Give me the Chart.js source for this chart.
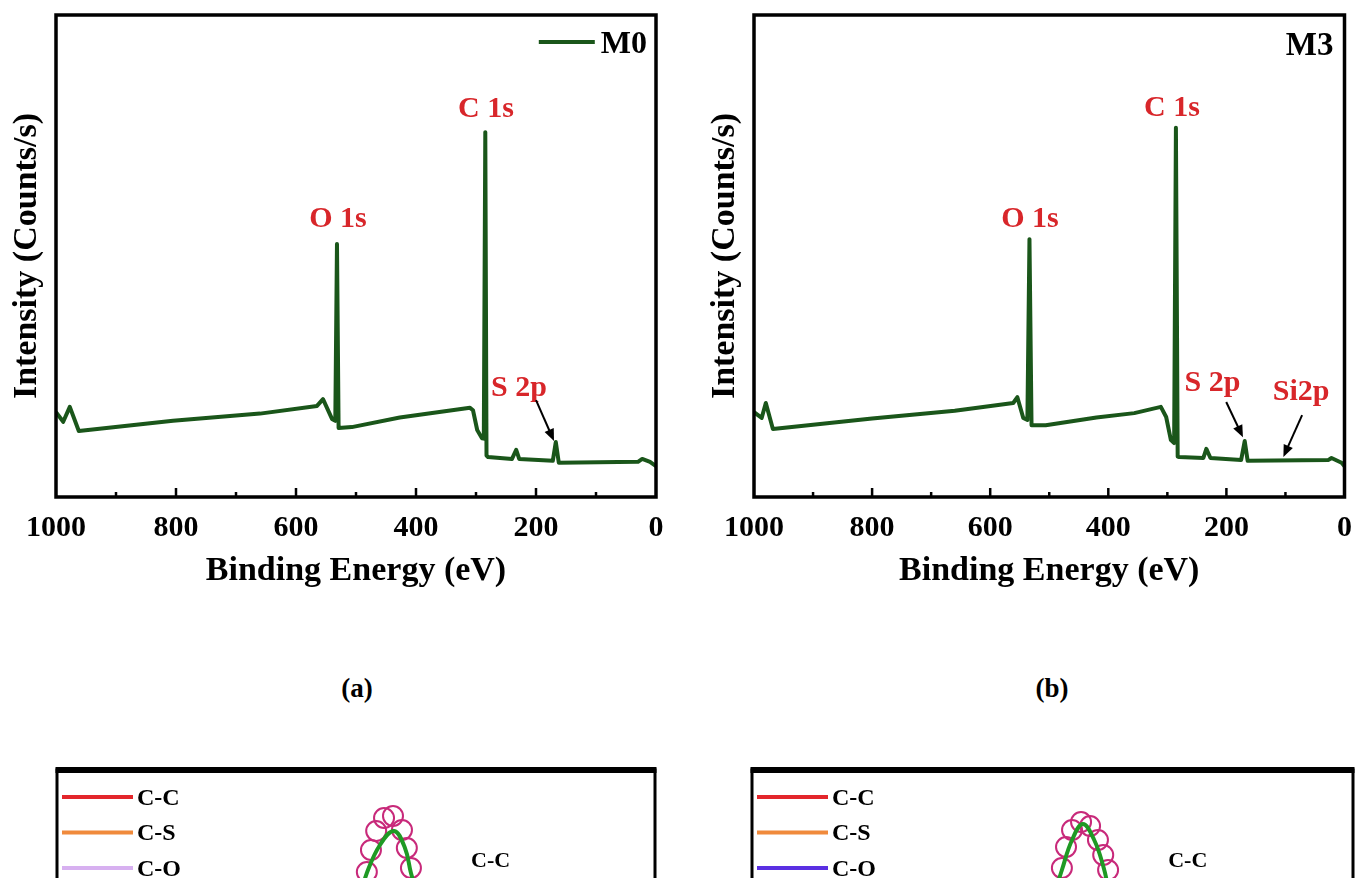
<!DOCTYPE html>
<html lang="en">
<head>
<meta charset="UTF-8">
<title>XPS survey spectra M0 / M3</title>
<script src="https://cdn.jsdelivr.net/npm/chart.js"></script>
<style>
    html, body { margin: 0; padding: 0; background: #fff; }
    body { width: 1365px; height: 878px; overflow: hidden; position: relative;
           font-family: 'Liberation Serif', 'Times New Roman', serif; }
    .panel { position: absolute; }
    .cap { position: absolute; font-weight: bold; font-size: 27px; transform: translate(-50%, -50%); }
</style>
</head>
<body>
    <div class="panel" style="left:0;top:0;width:690px;height:620px"><canvas id="chartM0"></canvas></div>
    <div class="panel" style="left:680px;top:0;width:685px;height:620px"><canvas id="chartM3"></canvas></div>
    <div class="cap" style="left:357px;top:688px">(a)</div>
    <div class="cap" style="left:1052px;top:688px">(b)</div>
    <div class="panel" style="left:0;top:700px;width:690px;height:500px"><canvas id="hrM0"></canvas></div>
    <div class="panel" style="left:680px;top:700px;width:685px;height:500px"><canvas id="hrM3"></canvas></div>

<script>
    const SERIF = "'Liberation Serif', 'Times New Roman', serif"
    Chart.defaults.font.family = SERIF
    Chart.defaults.color = '#000'

    // survey spectra: binding energy (eV) / intensity (arb. units, axis has no numbers)
    const energyM0 = [1000, 988, 977, 962, 805, 660, 565, 555, 540, 534.5, 531.7, 529, 507, 427, 310, 305, 298, 290, 287, 284.5, 282.5, 280, 240, 233, 228, 172, 167, 162, 30, 23, 10, 0]
    const countsM0 = [17.6, 15.6, 18.7, 13.7, 15.8, 17.3, 18.9, 20.3, 16.2, 15.8, 52.5, 14.3, 14.5, 16.5, 18.5, 18.0, 13.9, 12.2, 12.1, 75.7, 8.6, 8.3, 7.9, 9.8, 7.9, 7.5, 11.4, 7.1, 7.3, 7.9, 7.3, 6.4]

    const energyM3 = [1000, 987, 980, 968, 800, 660, 561, 554, 544, 537, 533.5, 530, 506, 420, 356, 311, 302, 294, 288.5, 285.5, 282.5, 280, 239, 234, 227, 175, 169, 164, 27, 22, 5, 0]
    const countsM3 = [17.6, 16.4, 19.5, 14.1, 16.3, 17.9, 19.5, 20.7, 16.4, 16.0, 53.5, 14.9, 14.9, 16.5, 17.4, 18.7, 16.6, 11.8, 11.2, 76.6, 8.4, 8.3, 8.1, 10.0, 8.1, 7.7, 11.6, 7.5, 7.7, 8.1, 7.1, 6.4]

    const surveyMin = 0
    const surveyMax = 1000
    const surveyStep = 200

    // C 1s high resolution, only the top of the C-C peak is in view
    const rawEnergyM0 = [285.71, 285.60, 285.46, 285.25, 285.01, 284.77, 284.64, 284.53]
    const rawCountsM0 = [74.5, 80, 84.75, 88, 88.5, 85, 80.5, 75.5]
    const fitEnergyM0 = [285.84, 285.71, 285.36, 284.98, 284.69, 284.53, 284.39]
    const fitCountsM0 = [70, 74.25, 81.25, 84.75, 80.5, 74.25, 70]

    const rawEnergyM3 = [285.75, 285.64, 285.48, 285.24, 285.00, 284.79, 284.65, 284.52]
    const rawCountsM3 = [75.5, 80.75, 85, 87, 86, 82.5, 78.75, 75]
    const fitEnergyM3 = [285.93, 285.75, 285.48, 285.19, 284.89, 284.65, 284.50]
    const fitCountsM3 = [69.5, 75, 82.5, 86.5, 82.5, 76, 70]

    const components = ['C-C', 'C-S', 'C-O']

    function pts(xs, ys) {
        return xs.map((v, i) => ({ x: v, y: ys[i] }))
    }

    function put(ctx, text, px, py, size, color, align) {
        ctx.font = `bold ${size}px ${SERIF}`
        ctx.fillStyle = color
        ctx.textAlign = align || 'center'
        ctx.textBaseline = 'alphabetic'
        ctx.fillText(text, px, py + size * 0.33)
    }

    const deco = {
        id: 'deco',
        afterDatasetsDraw(chart, args, o) {
            const { ctx, chartArea: a, scales: { x, y } } = chart
            ctx.save()
            ctx.strokeStyle = '#000'
            ctx.lineWidth = o.frame || 3.5
            ctx.strokeRect(a.left, a.top, a.right - a.left, a.bottom - a.top)
            if (o.topFrame) {
                ctx.lineWidth = o.topFrame
                ctx.beginPath()
                ctx.moveTo(a.left - 1.5, a.top)
                ctx.lineTo(a.right + 1.5, a.top)
                ctx.stroke()
            }
            // inward ticks every 100 eV, longer at labelled ones
            if (o.minor) {
                ctx.lineWidth = 2.5
                for (let v = x.min + o.minor; v < x.max; v += o.minor) {
                    const px = x.getPixelForValue(v)
                    const len = v % surveyStep === 0 ? 9 : 5
                    ctx.beginPath()
                    ctx.moveTo(px, a.bottom)
                    ctx.lineTo(px, a.bottom - len)
                    ctx.stroke()
                }
            }
            ;(o.labels || []).forEach(l => {
                put(ctx, l.text, x.getPixelForValue(l.at[0]), y.getPixelForValue(l.at[1]), l.size, l.color)
            })
            ;(o.arrows || []).forEach(ar => {
                const x1 = x.getPixelForValue(ar.from[0]), y1 = y.getPixelForValue(ar.from[1])
                const x2 = x.getPixelForValue(ar.to[0]), y2 = y.getPixelForValue(ar.to[1])
                const ang = Math.atan2(y2 - y1, x2 - x1)
                ctx.strokeStyle = '#000'
                ctx.fillStyle = '#000'
                ctx.lineWidth = 2
                ctx.beginPath()
                ctx.moveTo(x1, y1)
                ctx.lineTo(x2 - 8 * Math.cos(ang), y2 - 8 * Math.sin(ang))
                ctx.stroke()
                ctx.beginPath()
                ctx.moveTo(x2, y2)
                ctx.lineTo(x2 - 12 * Math.cos(ang) + 5 * Math.sin(ang), y2 - 12 * Math.sin(ang) - 5 * Math.cos(ang))
                ctx.lineTo(x2 - 12 * Math.cos(ang) - 5 * Math.sin(ang), y2 - 12 * Math.sin(ang) + 5 * Math.cos(ang))
                ctx.closePath()
                ctx.fill()
            })
            // sample legend, top right
            if (o.sample) {
                const ds = chart.data.datasets[0]
                const tx = a.right - o.sample.right
                const ty = a.top + o.sample.top
                ctx.font = `bold ${o.sample.size}px ${SERIF}`
                const w = ctx.measureText(ds.label).width
                if (o.sample.line) {
                    ctx.strokeStyle = ds.borderColor
                    ctx.lineWidth = 4
                    ctx.beginPath()
                    ctx.moveTo(tx - w - 62, ty)
                    ctx.lineTo(tx - w - 6, ty)
                    ctx.stroke()
                }
                put(ctx, ds.label, tx, ty, o.sample.size, '#000', 'right')
            }
            // component legend, top left
            if (o.comp) {
                chart.data.datasets.filter(d => d.comp).forEach((d, i) => {
                    const ly = a.top + o.comp.top + i * o.comp.gap
                    ctx.strokeStyle = d.borderColor
                    ctx.lineWidth = 4
                    ctx.beginPath()
                    ctx.moveTo(a.left + 5, ly)
                    ctx.lineTo(a.left + 76, ly)
                    ctx.stroke()
                    put(ctx, d.label, a.left + 80, ly, o.comp.size, '#000', 'left')
                })
            }
            ctx.restore()
        }
    }

    function surveyChart(id, name, xs, ys, yWidth, titlePad, padRight, extra) {
        const axisFont = { family: SERIF, weight: 'bold', size: 34 }
        return new Chart(document.getElementById(id), {
            type: 'line',
            data: {
                datasets: [{
                    label: name,
                    data: pts(xs, ys),
                    borderColor: '#1a561a',
                    borderWidth: 4,
                    borderJoinStyle: 'round',
                    pointRadius: 0,
                    tension: 0
                }]
            },
            options: {
                responsive: true,
                maintainAspectRatio: false,
                animation: false,
                layout: { padding: { top: 15, right: padRight, bottom: 0, left: 0 } },
                scales: {
                    x: {
                        type: 'linear', min: surveyMin, max: surveyMax, reverse: true,
                        grid: { display: false, drawTicks: false },
                        border: { display: false },
                        ticks: { stepSize: surveyStep, padding: 13, autoSkip: false, maxRotation: 0, color: '#000',
                                 font: { family: SERIF, weight: 'bold', size: 30 },
                                 callback: v => String(v) },
                        title: { display: true, text: 'Binding Energy (eV)', color: '#000', font: axisFont,
                                 padding: { top: 0, bottom: 28 } },
                        afterFit: s => { s.height = 123 }
                    },
                    y: {
                        min: 0, max: 100,
                        grid: { display: false, drawTicks: false },
                        border: { display: false },
                        ticks: { display: false },
                        title: { display: true, text: 'Intensity (Counts/s)', color: '#000', font: axisFont,
                                 padding: { top: titlePad, bottom: 0 } },
                        afterFit: s => { s.width = yWidth }
                    }
                },
                plugins: {
                    legend: { display: false },
                    tooltip: { enabled: false },
                    deco: Object.assign({ frame: 3.5, minor: 100 }, extra)
                }
            },
            plugins: [deco]
        })
    }

    const red = '#d8262a'

    surveyChart('chartM0', 'M0', energyM0, countsM0, 56, 7, 34, {
        labels: [
            { text: 'O 1s', at: [530, 58.1], size: 30, color: red },
            { text: 'C 1s', at: [283.3, 80.9], size: 30, color: red },
            { text: 'S 2p', at: [228.3, 23.0], size: 30, color: red }
        ],
        arrows: [{ from: [200, 20.1], to: [170, 11.6] }],
        sample: { right: 9, top: 27, size: 32, line: true }
    })

    surveyChart('chartM3', 'M3', energyM3, countsM3, 74, 25, 12, {
        labels: [
            { text: 'O 1s', at: [532.6, 58.1], size: 30, color: red },
            { text: 'C 1s', at: [292.2, 81.1], size: 30, color: red },
            { text: 'S 2p', at: [223.7, 24.1], size: 30, color: red },
            { text: 'Si2p', at: [73.5, 22.2], size: 30, color: red }
        ],
        arrows: [{ from: [200.3, 19.7], to: [172, 12.4] }, { from: [71.8, 17.0], to: [103.5, 8.3] }],
        sample: { right: 11, top: 29, size: 33, line: false }
    })

    function hrChart(id, rawX, rawY, fitX, fitY, coColor, padL, padR) {
        const compColors = ['#e3262b', '#f08a3c', coColor]
        const compSets = components.map((c, i) => ({
            label: c, comp: true, data: [], borderColor: compColors[i], borderWidth: 4, pointRadius: 0
        }))
        return new Chart(document.getElementById(id), {
            type: 'line',
            data: {
                datasets: [
                    { label: 'Fit', data: pts(fitX, fitY), borderColor: '#1f9a24', borderWidth: 4,
                      pointRadius: 0, tension: 0.4 },
                    { label: 'Raw', data: pts(rawX, rawY), showLine: false, pointRadius: 10, pointBorderWidth: 2,
                      pointBorderColor: '#c8297a', pointBackgroundColor: 'rgba(0,0,0,0)' }
                ].concat(compSets)
            },
            options: {
                responsive: true,
                maintainAspectRatio: false,
                animation: false,
                layout: { padding: { top: 70, right: padR, bottom: 30, left: padL } },
                scales: {
                    x: { type: 'linear', min: 278, max: 294, reverse: true, display: false },
                    y: { min: 0, max: 100, display: false }
                },
                plugins: {
                    legend: { display: false },
                    tooltip: { enabled: false },
                    deco: {
                        frame: 3, topFrame: 6,
                        labels: [{ text: 'C-C', at: [282.4, 77.5], size: 22, color: '#000' }],
                        comp: { top: 27, gap: 35.5, size: 24 }
                    }
                }
            },
            plugins: [deco]
        })
    }

    hrChart('hrM0', rawEnergyM0, rawCountsM0, fitEnergyM0, fitCountsM0, '#d7b0f0', 57, 35)
    hrChart('hrM3', rawEnergyM3, rawCountsM3, fitEnergyM3, fitCountsM3, '#5a2fe2', 72, 12)
</script>
</body>
</html>
